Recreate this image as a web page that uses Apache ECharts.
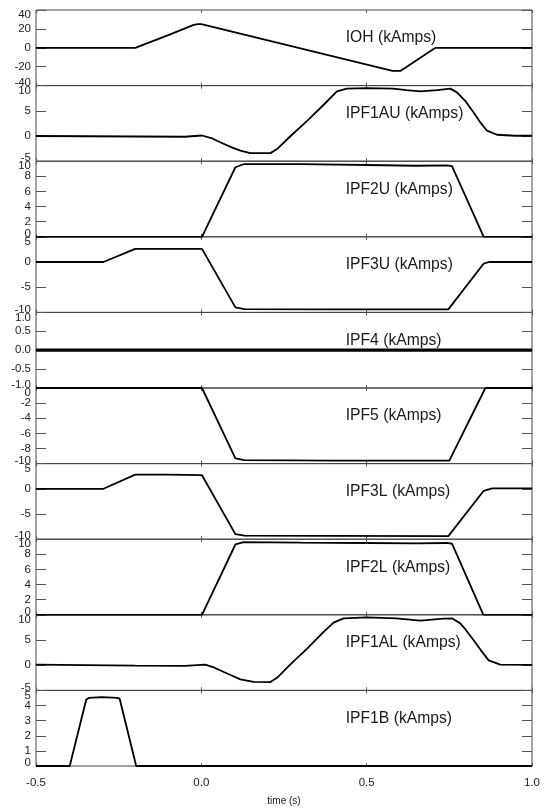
<!DOCTYPE html>
<html>
<head>
<meta charset="utf-8">
<script src="https://cdn.jsdelivr.net/npm/echarts@6/dist/echarts.min.js"></script>
<style>html,body{margin:0;padding:0;background:#fff;}#c{width:544px;height:811px;}</style>
</head>
<body>
<div id="c"></div>
<script>
// ---- data (time in s, values in kAmps) ----
const panelNames = ['IOH (kAmps)','IPF1AU (kAmps)','IPF2U (kAmps)','IPF3U (kAmps)','IPF4 (kAmps)','IPF5 (kAmps)','IPF3L (kAmps)','IPF2L (kAmps)','IPF1AL (kAmps)','IPF1B (kAmps)'];
const yMins = [-40, -5, 0, -10, -1, -10, -10, 0, -5, 0];
const yMaxs = [40, 10, 10, 5, 1, 0, 5, 10, 10, 5];
const yIntervals = [20, 5, 2, 5, 0.5, 2, 5, 2, 5, 1];
const yDecimals = [0, 0, 0, 0, 1, 0, 0, 0, 0, 0];
const xTickValues = [-0.5, 0.0, 0.5, 1.0];

const iohT = [-0.5, -0.2, -0.1, -0.023, -0.01, 0.0, 0.578, 0.602, 0.708, 1.0];
const iohV = [0, 0, 13.5, 24.2, 25, 25, -24.5, -24.5, 0, 0];

const ipf1auT = [-0.5, -0.2, -0.05, 0.002, 0.03, 0.057, 0.09, 0.118, 0.148, 0.209, 0.229, 0.27, 0.32, 0.37, 0.41, 0.44, 0.50, 0.58, 0.62, 0.662, 0.713, 0.753, 0.773, 0.80, 0.823, 0.845, 0.864, 0.894, 0.95, 1.0];
const ipf1auV = [0, -0.1, -0.15, 0.1, -0.4, -1.25, -2.2, -2.9, -3.4, -3.4, -2.6, 0.0, 3.0, 6.2, 8.85, 9.4, 9.5, 9.4, 9.1, 8.85, 9.1, 9.4, 8.65, 6.8, 4.7, 2.6, 1.05, 0.25, 0.05, 0.05];

const ipf2uT = [-0.5, 0.002, 0.103, 0.128, 0.3, 0.5, 0.65, 0.743, 0.758, 0.854, 1.0];
const ipf2uV = [0, 0, 9.2, 9.6, 9.6, 9.5, 9.4, 9.45, 9.35, 0, 0];

const ipf3uT = [-0.5, -0.296, -0.2, -0.1, 0.002, 0.103, 0.13, 0.4, 0.747, 0.854, 0.87, 1.0];
const ipf3uV = [0, 0, 2.6, 2.6, 2.6, -9.0, -9.35, -9.4, -9.4, -0.3, 0, 0];

const ipf4T = [-0.5, 1.0];
const ipf4V = [0, 0];

const ipf5T = [-0.5, 0.002, 0.103, 0.13, 0.4, 0.75, 0.859, 1.0];
const ipf5V = [0, 0, -9.3, -9.55, -9.6, -9.6, 0, 0];

const ipf3lT = [-0.5, -0.296, -0.2, -0.1, 0.002, 0.103, 0.13, 0.4, 0.747, 0.854, 0.88, 1.0];
const ipf3lV = [0, 0, 2.8, 2.8, 2.7, -9.0, -9.3, -9.35, -9.4, -0.4, 0.1, 0.1];

const ipf2lT = [-0.5, 0.002, 0.103, 0.128, 0.3, 0.5, 0.65, 0.743, 0.758, 0.853, 1.0];
const ipf2lV = [0, 0, 9.3, 9.6, 9.55, 9.5, 9.45, 9.5, 9.4, 0, 0];

const ipf1alT = [-0.5, -0.2, -0.05, 0.012, 0.04, 0.068, 0.09, 0.118, 0.158, 0.209, 0.229, 0.27, 0.32, 0.37, 0.40, 0.43, 0.50, 0.59, 0.662, 0.733, 0.758, 0.783, 0.80, 0.823, 0.845, 0.869, 0.904, 1.0];
const ipf1alV = [0.1, -0.1, -0.15, 0.1, -0.5, -1.35, -2.0, -2.8, -3.3, -3.35, -2.5, 0.2, 3.3, 6.6, 8.45, 9.3, 9.5, 9.3, 8.85, 9.25, 9.3, 8.3, 7.0, 5.0, 3.0, 0.95, 0.1, 0.05];

const ipf1bT = [-0.5, -0.398, -0.348, -0.34, -0.3, -0.255, -0.247, -0.197, 1.0];
const ipf1bV = [0, 0, 4.4, 4.5, 4.55, 4.5, 4.45, 0, 0];

const seriesT = [iohT, ipf1auT, ipf2uT, ipf3uT, ipf4T, ipf5T, ipf3lT, ipf2lT, ipf1alT, ipf1bT];
const seriesV = [iohV, ipf1auV, ipf2uV, ipf3uV, ipf4V, ipf5V, ipf3lV, ipf2lV, ipf1alV, ipf1bV];

// ---- layout / style ----
const FONT = '"Liberation Sans", Arial, Helvetica, sans-serif';
const N = 10, TOP = 10, PH = 75.6, LEFT = 36, RIGHT = 12;
const frameColor = '#444', tickColor = '#555', textColor = '#1a1a1a';
const LFS = 11.5;

const grids = [], xAxes = [], yAxes = [], series = [], graphics = [];
for (let i = 0; i < N; i++) {
  const top = TOP + i * PH;
  grids.push({left: LEFT, right: RIGHT, top: top, height: PH, show: true, borderColor: frameColor, borderWidth: 1, backgroundColor: 'transparent'});
}
for (let i = 0; i < N; i++) {
  const last = i === N - 1;
  xAxes.push({
    type: 'value', gridIndex: i, position: 'bottom', min: -0.5, max: 1.0, interval: 0.5,
    axisLine: {show: false, onZero: false}, splitLine: {show: false},
    axisTick: {show: true, inside: true, length: 3, lineStyle: {color: tickColor}},
    axisLabel: {show: last, margin: 11, fontSize: LFS, fontFamily: FONT, color: textColor,
      showMinLabel: true, showMaxLabel: true,
      formatter: v => v.toFixed(1)},
    name: last ? 'time (s)' : '', nameLocation: 'middle', nameGap: 30,
    nameTextStyle: {fontSize: 10, fontFamily: FONT, color: textColor}
  });
}
for (let i = 0; i < N; i++) {
  xAxes.push({
    type: 'value', gridIndex: i, position: 'top', min: -0.5, max: 1.0, interval: 0.5,
    axisLine: {show: false, onZero: false}, splitLine: {show: false}, axisLabel: {show: false},
    axisTick: {show: true, inside: true, length: 3, lineStyle: {color: tickColor}}
  });
}
const isExt = (v, a, b) => Math.abs(v - a) < 1e-9 || Math.abs(v - b) < 1e-9;
// main left axes: ticks + inner labels
for (let i = 0; i < N; i++) {
  const mn = yMins[i], mx = yMaxs[i], dec = yDecimals[i];
  yAxes.push({
    type: 'value', gridIndex: i, position: 'left', min: mn, max: mx, interval: yIntervals[i],
    axisLine: {show: false, onZero: false}, splitLine: {show: false},
    axisTick: {show: true, inside: true, length: 10, lineStyle: {color: tickColor}},
    axisLabel: {
      margin: 5, fontSize: LFS, fontFamily: FONT, color: textColor,
      formatter: v => isExt(v, mn, mx) ? '' : v.toFixed(dec)
    }
  });
}
// right axes: ticks only
for (let i = 0; i < N; i++) {
  yAxes.push({
    type: 'value', gridIndex: i, position: 'right', min: yMins[i], max: yMaxs[i], interval: yIntervals[i],
    axisLine: {show: false, onZero: false}, splitLine: {show: false}, axisLabel: {show: false},
    axisTick: {show: true, inside: true, length: 10, lineStyle: {color: tickColor}}
  });
}
// extra left axes: only the extreme labels, nudged inward like the original plot
for (let i = 0; i < N; i++) {
  const mn = yMins[i], mx = yMaxs[i], dec = yDecimals[i];
  const richBase = {fontSize: LFS, fontFamily: FONT, color: textColor};
  yAxes.push({
    type: 'value', gridIndex: i, position: 'left', min: mn, max: mx, interval: yIntervals[i],
    axisLine: {show: false, onZero: false}, splitLine: {show: false}, axisTick: {show: false},
    axisLabel: {
      margin: 5, fontSize: LFS, fontFamily: FONT, color: textColor,
      showMinLabel: true, showMaxLabel: true,
      formatter: function (v) {
        const s = v.toFixed(dec);
        if (Math.abs(v - mx) < 1e-9) return '{hi|' + s + '}';
        if (Math.abs(v - mn) < 1e-9) return '{lo|' + s + '}';
        return '';
      },
      rich: {
        hi: Object.assign({padding: [10, 0, 0, 0]}, richBase),
        lo: Object.assign({padding: [0, 0, 6, 0]}, richBase)
      }
    }
  });
}
for (let i = 0; i < N; i++) {
  series.push({
    type: 'line', xAxisIndex: i, yAxisIndex: i,
    data: seriesT[i].map((t, k) => [t, seriesV[i][k]]),
    showSymbol: false, symbol: 'none', clip: true, silent: true,
    lineStyle: {color: '#000', width: i === 4 ? 3.2 : 1.8}
  });
  graphics.push({
    type: 'text', left: 345.7, top: TOP + i * PH + 29 - 9,
    style: {text: panelNames[i], fontSize: 15.7, fontFamily: FONT, fill: textColor}
  });
}

const chart = echarts.init(document.getElementById('c'), null, {renderer: 'canvas'});
chart.setOption({
  animation: false,
  backgroundColor: '#fff',
  grid: grids, xAxis: xAxes, yAxis: yAxes, series: series, graphic: graphics
});
</script>
</body>
</html>
